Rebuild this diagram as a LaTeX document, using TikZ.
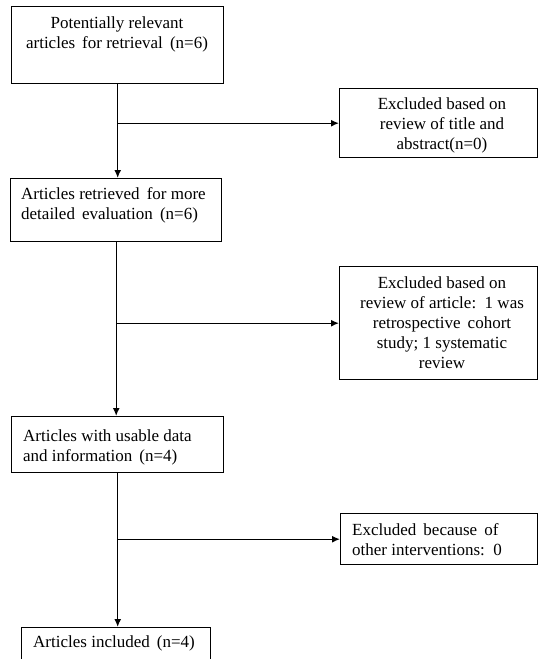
\documentclass[tikz,border=0pt]{standalone}
\usepackage{fontspec}
\setmainfont{Liberation Serif}
\usetikzlibrary{arrows.meta}
\begin{document}
\begin{tikzpicture}[x=1pt,y=-1pt,
  box/.style={draw, line width=1.4pt, inner sep=0pt, anchor=north west},
  txt/.style={inner sep=0pt, font=\fontsize{17}{20}\selectfont},
  arr/.style={line width=1.4pt, -{Latex[length=8pt,width=7pt]}}]
\useasboundingbox (0,0) rectangle (539,659);
\clip (0,0) rectangle (539,659);
% boxes
\node[box, minimum width=212pt, minimum height=77pt] (b1) at (11,6) {};
\node[box, minimum width=211pt, minimum height=63pt] (b2) at (10,178) {};
\node[box, minimum width=212pt, minimum height=56pt] (b3) at (11,416) {};
\node[box, minimum width=189pt, minimum height=50pt] (b4) at (21,627) {};
\node[box, minimum width=198pt, minimum height=69pt] (r1) at (339,88) {};
\node[box, minimum width=198pt, minimum height=113pt] (r2) at (339,266) {};
\node[box, minimum width=197pt, minimum height=51pt] (r3) at (340,513) {};
% texts
\node[txt, align=center] (t1) at (117,34) {Potentially relevant\\articles\, for retrieval\, (n=6)};
\node[txt, align=left, anchor=west] (t2) at (21,205.5) {Articles retrieved\, for more\\detailed\, evaluation\, (n=6)};
\node[txt, align=left, anchor=west] (t3) at (23,447) {Articles with usable data\\and information\, (n=4)};
\node[txt] (t4) at (114,643) {Articles included\, (n=4)};
\node[txt, align=center] (tr1) at (442,125.5) {Excluded based on\\review of title and\\abstract(n=0)};
\node[txt, align=center] (tr2) at (442,322.5) {Excluded based on\\review of article:\, 1 was\\retrospective\, cohort\\study; 1 systematic\\review};
\node[txt, align=left, anchor=west] (tr3) at (352,540) {Excluded\, because\, of\\other interventions:\, 0};
% connectors
\draw[arr] (b1.south) -- (b1.south |- b2.north);
\draw[arr] (b1.south |- r1.west) -- (r1.west);
\draw[arr] (b2.south) -- (b2.south |- b3.north);
\draw[arr] (b2.south |- r2.west) -- (r2.west);
\draw[arr] (b3.south) -- (b3.south |- b4.north);
\draw[arr] (b3.south |- r3.west) -- (r3.west);
\end{tikzpicture}
\end{document}
